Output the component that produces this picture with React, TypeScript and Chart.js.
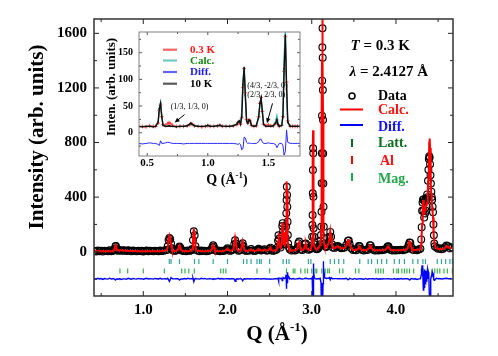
import React, { useEffect, useRef } from 'react';
import { Chart, registerables } from 'chart.js';

Chart.register(...registerables);

const SERIF = '"Liberation Serif", "Times New Roman", serif';
const fnt = (size: number, style = 'bold') => `${style} ${size}px ${SERIF}`;

// ---------------- main pattern (Q in 1/Å, intensity in arb. units) ----------------
const qObs = [
  0.42, 0.44, 0.46, 0.48, 0.50, 0.52, 0.54, 0.56, 0.58, 0.60, 0.62, 0.64,
  0.65, 0.66, 0.67, 0.675, 0.68, 0.69,
  0.70, 0.72, 0.74, 0.76, 0.78, 0.80, 0.82, 0.84, 0.86, 0.88, 0.90, 0.92, 0.94, 0.96, 0.98,
  1.00, 1.02, 1.04, 1.06, 1.08, 1.10, 1.12, 1.14, 1.16, 1.18, 1.20, 1.22, 1.24, 1.26,
  1.28, 1.29, 1.30, 1.31, 1.32, 1.33, 1.34, 1.35,
  1.37, 1.39, 1.41, 1.42, 1.43, 1.44, 1.45,
  1.47, 1.49, 1.51, 1.53, 1.55, 1.57,
  1.58, 1.59, 1.60, 1.61, 1.62, 1.63,
  1.65, 1.67, 1.69, 1.71, 1.73, 1.75, 1.77, 1.79,
  1.81, 1.82, 1.83, 1.84, 1.85,
  1.87, 1.89, 1.91, 1.93, 1.95, 1.97, 1.99, 2.00, 2.01,
  2.03, 2.05, 2.07, 2.08, 2.09, 2.10, 2.11, 2.13, 2.15,
  2.16, 2.17, 2.18, 2.19, 2.20, 2.22, 2.24, 2.26, 2.28, 2.30,
  2.32, 2.34, 2.36, 2.37, 2.38, 2.40, 2.42, 2.44, 2.46, 2.48,
  2.50, 2.51, 2.52, 2.54, 2.56, 2.58, 2.59, 2.60, 2.605, 2.61,
  2.62, 2.63, 2.64, 2.645, 2.65, 2.655, 2.66, 2.67, 2.68, 2.69,
  2.695, 2.698, 2.701, 2.704, 2.707, 2.710, 2.713, 2.716, 2.72, 2.73,
  2.74, 2.76, 2.78, 2.80, 2.82, 2.83, 2.84, 2.85, 2.86, 2.87,
  2.89, 2.91, 2.92, 2.93, 2.94, 2.96, 2.98, 2.99, 3.00, 3.005,
  3.008, 3.010, 3.012, 3.014, 3.016, 3.018, 3.020, 3.022, 3.025, 3.03,
  3.04, 3.05, 3.06, 3.07, 3.08, 3.09, 3.100, 3.106, 3.110, 3.113,
  3.116, 3.118, 3.120, 3.122, 3.124, 3.126, 3.128, 3.130, 3.132, 3.134,
  3.136, 3.138, 3.140, 3.143, 3.147, 3.152, 3.16, 3.17, 3.18, 3.19,
  3.20, 3.21, 3.22, 3.23, 3.24, 3.25, 3.27, 3.29, 3.31, 3.33,
  3.35, 3.37, 3.39, 3.41, 3.43, 3.44, 3.45, 3.47, 3.49, 3.51,
  3.53, 3.55, 3.56, 3.57, 3.58, 3.60, 3.62, 3.64, 3.66, 3.68,
  3.69, 3.70, 3.71, 3.73, 3.75, 3.77, 3.79, 3.81, 3.83, 3.85,
  3.87, 3.89, 3.90, 3.91, 3.92, 3.94, 3.96, 3.98, 4.00, 4.02,
  4.04, 4.06, 4.08, 4.10, 4.12, 4.14, 4.15, 4.16, 4.17, 4.18,
  4.19, 4.21, 4.23, 4.25, 4.27, 4.29, 4.30, 4.305, 4.31, 4.315,
  4.32, 4.325, 4.33, 4.335, 4.34, 4.345, 4.35, 4.355, 4.36, 4.365,
  4.37, 4.375, 4.38, 4.385, 4.39, 4.395, 4.40, 4.405, 4.41, 4.415,
  4.42, 4.425, 4.43, 4.435, 4.44, 4.445, 4.45, 4.455, 4.46, 4.48,
  4.50, 4.52, 4.54, 4.56, 4.58, 4.60, 4.62, 4.64, 4.66,
];

const obsCounts = [
  6, 2, 9, 4, 7, 1, 8, 5, 3, 10, 4, 7,
  10, 22, 40, 42, 25, 9,
  8, 12, 6, 10, 9, 5, 11, 7, 4, 9, 6, 3, 8, 5, 7,
  2, 6, 9, 4, 7, 5, 3, 8, 6, 4, 9, 5, 7, 10,
  12, 40, 85, 100, 92, 60, 25, 10,
  6, 9, 14, 28, 38, 30, 12,
  5, 8, 4, 9, 6, 10,
  20, 85, 150, 120, 40, 12,
  7, 4, 9, 5, 8, 3, 6, 10,
  15, 32, 47, 35, 12,
  6, 9, 4, 8, 5, 9, 18, 26, 16,
  6, 10, 18, 55, 84, 60, 20, 7, 10,
  22, 48, 62, 40, 14, 6, 9, 8, 20, 9,
  6, 9, 14, 22, 14, 8, 12, 18, 8, 9,
  22, 30, 15, 6, 10, 14, 30, 80, 120, 95,
  45, 30, 60, 114, 188, 209, 150, 70, 55, 100,
  183, 281, 379, 476, 416, 330, 220, 122, 60, 30,
  16, 8, 12, 9, 15, 30, 62, 75, 40, 16,
  12, 25, 55, 60, 30, 14, 18, 25, 45, 110,
  196, 269, 428, 599, 758, 721, 403, 171, 110, 55,
  30, 22, 18, 22, 28, 40, 55, 80, 122, 183,
  293, 501, 721, 997, 1253, 1498, 1637, 1422, 1185, 965,
  720, 500, 330, 183, 100, 60, 40, 35, 40, 55,
  70, 110, 145, 110, 55, 30, 28, 38, 42, 32,
  25, 28, 30, 50, 80, 82, 55, 25, 12, 16,
  10, 25, 42, 40, 22, 12, 8, 14, 12, 30,
  48, 46, 28, 14, 9, 13, 8, 12, 10, 14,
  16, 25, 38, 40, 26, 12, 9, 13, 8, 12,
  10, 14, 11, 15, 18, 30, 50, 68, 65, 35,
  18, 12, 15, 11, 16, 22, 90, 180, 300, 360,
  380, 300, 385, 250, 370, 280, 380, 300, 390, 330,
  420, 400, 520, 600, 680, 700, 690, 640, 560, 500,
  440, 400, 380, 330, 290, 200, 120, 60, 40, 30,
  22, 26, 18, 22, 32, 45, 40, 26, 32,
];

const calcCounts = [
  4, 4, 4, 4, 4, 4, 4, 4, 4, 4, 4, 5,
  8, 24, 48, 50, 26, 8,
  10, 10, 9, 9, 8, 7, 6, 5, 5, 5, 5, 4, 4, 4, 4,
  4, 4, 4, 4, 4, 4, 4, 4, 4, 4, 4, 5, 6, 8,
  12, 35, 90, 117, 95, 50, 20, 8,
  5, 6, 12, 28, 45, 32, 12,
  5, 4, 4, 4, 5, 8,
  18, 80, 170, 120, 36, 10,
  6, 5, 4, 4, 4, 4, 5, 7,
  14, 32, 50, 33, 12,
  5, 4, 4, 4, 5, 8, 16, 24, 14,
  6, 8, 16, 55, 100, 62, 18, 7, 9,
  20, 50, 75, 42, 12, 6, 6, 8, 18, 8,
  6, 7, 12, 20, 13, 8, 10, 16, 8, 8,
  22, 32, 14, 7, 8, 12, 28, 75, 135, 90,
  40, 28, 55, 110, 200, 215, 140, 65, 50, 90,
  150, 300, 450, 515, 440, 300, 170, 80, 40, 22,
  12, 8, 9, 10, 14, 28, 60, 70, 36, 14,
  12, 22, 50, 55, 26, 13, 16, 22, 40, 100,
  200, 300, 500, 720, 890, 760, 290, 120, 60, 40,
  28, 20, 18, 20, 26, 38, 50, 75, 150, 260,
  450, 700, 1000, 1400, 1800, 2100, 2200, 1900, 1400, 1000,
  640, 380, 200, 100, 60, 45, 35, 30, 36, 50,
  65, 100, 150, 100, 50, 28, 25, 35, 40, 30,
  24, 26, 28, 45, 85, 85, 50, 24, 14, 12,
  12, 24, 40, 38, 20, 12, 10, 10, 14, 28,
  46, 45, 26, 12, 10, 10, 10, 10, 10, 12,
  15, 24, 36, 38, 25, 12, 10, 10, 10, 10,
  10, 11, 12, 13, 16, 28, 50, 75, 70, 32,
  16, 12, 13, 14, 15, 20, 60, 120, 200, 280,
  330, 380, 330, 310, 300, 305, 320, 330, 340, 350,
  360, 400, 450, 550, 650, 800, 830, 760, 600, 500,
  420, 370, 330, 290, 250, 180, 120, 70, 45, 25,
  20, 22, 18, 20, 28, 40, 38, 24, 28,
];

const diffOffset = -200;

const lattPositions = [
  1.309, 1.33, 1.43, 1.608, 1.66, 1.83, 2.0, 2.19, 2.23, 2.28, 2.35, 2.38, 2.40, 2.50,
  2.66, 2.70, 2.73, 2.96, 2.99, 3.22, 3.27, 3.32, 3.38, 3.57, 3.67, 3.71, 3.78, 3.83,
  3.89, 3.98, 4.04, 4.10, 4.20, 4.26, 4.32, 4.35, 4.49, 4.54, 4.59, 4.64, 4.67,
];
const lattRowLevel = -72;

const magPositions = [
  0.723, 0.815, 1.0, 1.25, 1.456, 1.495, 1.54, 1.606, 1.92, 1.95, 1.98, 2.35, 2.50,
  2.70, 2.78, 2.80, 2.87, 2.92, 2.95, 3.0, 3.04, 3.06, 3.12, 3.16, 3.19, 3.21, 3.33,
  3.37, 3.52, 3.56, 3.76, 3.79, 3.82, 3.85, 3.97, 4.01, 4.03, 4.07, 4.10, 4.13, 4.16,
  4.21, 4.30, 4.33, 4.37, 4.43, 4.46, 4.49, 4.52, 4.57, 4.61, 4.67,
];
const magRowLevel = -141;

const xMajorTicks = [1, 2, 3, 4];
const xMinorTicks = [0.5, 1.5, 2.5, 3.5, 4.5];
const yMajorTicks = [0, 400, 800, 1200, 1600];
const yMinorTicks = [-200, 200, 600, 1000, 1400];

// ---------------- inset ----------------
const qInset = [
  0.43, 0.46, 0.49, 0.52, 0.55, 0.57, 0.59, 0.60, 0.61, 0.62,
  0.63, 0.65, 0.67, 0.68, 0.69, 0.71, 0.74, 0.77, 0.80, 0.83,
  0.85, 0.86, 0.87, 0.89, 0.92, 0.95, 0.98, 1.00, 1.02, 1.05,
  1.08, 1.10, 1.12, 1.15, 1.18, 1.21, 1.24, 1.25, 1.26, 1.27,
  1.28, 1.29, 1.30, 1.31, 1.32, 1.33, 1.34, 1.35, 1.36, 1.38,
  1.40, 1.42, 1.43, 1.44, 1.45, 1.46, 1.48, 1.50, 1.52, 1.54,
  1.56, 1.57, 1.58, 1.59, 1.61, 1.62, 1.63, 1.64, 1.65, 1.66,
  1.68, 1.70, 1.72, 1.74, 1.76,
];
const inset10K = [
  12, 11, 12, 12, 11, 12, 20, 45, 55, 30,
  14, 12, 12, 13, 12, 12, 11, 12, 12, 13,
  16, 18, 16, 13, 12, 12, 12, 14, 12, 12,
  13, 14, 12, 12, 12, 13, 16, 20, 22, 16,
  30, 90, 122, 70, 22, 18, 24, 22, 14, 12,
  13, 30, 55, 65, 40, 16, 12, 12, 12, 13,
  18, 24, 15, 12, 14, 30, 120, 183, 90, 20,
  12, 12, 12, 12, 12,
];
const inset03K = [
  11, 12, 11, 13, 12, 12, 18, 42, 52, 30,
  15, 14, 17, 19, 17, 14, 12, 12, 12, 13,
  15, 17, 16, 13, 12, 11, 12, 13, 12, 12,
  13, 14, 12, 12, 12, 13, 15, 19, 21, 16,
  28, 85, 120, 75, 25, 18, 24, 22, 14, 12,
  13, 30, 55, 66, 40, 16, 13, 15, 13, 13,
  18, 24, 15, 12, 14, 30, 115, 180, 95, 22,
  12, 12, 12, 12, 12,
];
const insetCalc = [
  12, 12, 12, 12, 12, 12, 20, 46, 57, 32,
  14, 12, 12, 13, 12, 12, 12, 12, 12, 13,
  16, 18, 16, 13, 12, 12, 12, 14, 12, 12,
  13, 14, 12, 12, 12, 13, 17, 21, 20, 18,
  40, 100, 122, 60, 22, 18, 23, 22, 14, 12,
  13, 28, 52, 64, 40, 16, 12, 12, 12, 13,
  22, 32, 18, 12, 14, 35, 140, 195, 70, 18,
  12, 12, 12, 12, 12,
];
const insetDiff = [
  -20, -21, -20, -19, -20, -20, -22, -24, -15, -20,
  -20, -19, -18, -18, -19, -20, -20, -20, -21, -20,
  -20, -20, -20, -20, -20, -20, -20, -20, -20, -20,
  -20, -20, -20, -20, -20, -20, -21, -22, -20, -22,
  -32, -30, -8, -10, -18, -20, -19, -20, -20, -20,
  -20, -17, -12, -12, -17, -20, -20, -19, -20, -20,
  -22, -28, -24, -20, -20, -24, -42, -35, 5, -18,
  -20, -20, -20, -20, -20,
];
const insetXMajor = [0.5, 1.0, 1.5];
const insetXMinor = [0.75, 1.25];
const insetYMajor = [0, 50, 100, 150];
const insetYMinor = [-25, 25, 75, 125, 175];

const INSET_LEFT = 96;
const INSET_TOP = 20;

function pts(xs: number[], ys: number[]) {
  return xs.map((x, i) => ({ x, y: ys[i] }));
}

function drawQTitle(ctx: CanvasRenderingContext2D, cx: number, base: number, size: number, sup: number) {
  const a = 'Q (Å';
  const s = '-1';
  const c = ')';
  ctx.font = fnt(size);
  const wa = ctx.measureText(a).width;
  const wc = ctx.measureText(c).width;
  ctx.font = fnt(sup);
  const ws = ctx.measureText(s).width;
  let x = cx - (wa + ws + wc) / 2;
  ctx.textAlign = 'left';
  ctx.textBaseline = 'alphabetic';
  ctx.fillStyle = '#000';
  ctx.font = fnt(size);
  ctx.fillText(a, x, base);
  x += wa;
  ctx.font = fnt(sup);
  ctx.fillText(s, x, base - size * 0.42);
  x += ws;
  ctx.font = fnt(size);
  ctx.fillText(c, x, base);
}

function inwardTicks(chart: any, xMaj: number[], xMin: number[], yMaj: number[], yMin: number[], lMaj: number, lMin: number, color: string) {
  const { ctx, chartArea: a, scales } = chart;
  const xs = scales.x;
  const ys = scales.y;
  ctx.save();
  ctx.strokeStyle = color;
  ctx.lineWidth = 1;
  const vt = (v: number, len: number) => {
    const p = xs.getPixelForValue(v);
    ctx.beginPath();
    ctx.moveTo(p, a.bottom);
    ctx.lineTo(p, a.bottom - len);
    ctx.moveTo(p, a.top);
    ctx.lineTo(p, a.top + len);
    ctx.stroke();
  };
  const ht = (v: number, len: number) => {
    const p = ys.getPixelForValue(v);
    ctx.beginPath();
    ctx.moveTo(a.left, p);
    ctx.lineTo(a.left + len, p);
    ctx.moveTo(a.right, p);
    ctx.lineTo(a.right - len, p);
    ctx.stroke();
  };
  xMaj.forEach((v) => vt(v, lMaj));
  xMin.forEach((v) => vt(v, lMin));
  yMaj.forEach((v) => ht(v, lMaj));
  yMin.forEach((v) => ht(v, lMin));
  ctx.restore();
}

const mainDecor = {
  id: 'mainDecor',
  afterDraw(chart: any) {
    const { ctx, chartArea: a } = chart;
    inwardTicks(chart, xMajorTicks, xMinorTicks, yMajorTicks, yMinorTicks, 5, 3, '#222');
    ctx.save();
    ctx.strokeStyle = '#333';
    ctx.lineWidth = 1.5;
    ctx.strokeRect(a.left, a.top, a.right - a.left, a.bottom - a.top);

    // y title
    ctx.save();
    ctx.translate(43, 137);
    ctx.rotate(-Math.PI / 2);
    ctx.font = fnt(21);
    ctx.fillStyle = '#000';
    ctx.textAlign = 'center';
    ctx.textBaseline = 'alphabetic';
    ctx.fillText('Intensity (arb. units)', 0, 0);
    ctx.restore();

    // x title
    drawQTitle(ctx, 277, 340, 21, 13);

    // annotation texts
    ctx.fillStyle = '#000';
    ctx.textAlign = 'left';
    ctx.textBaseline = 'alphabetic';
    ctx.font = fnt(15, 'italic bold');
    ctx.fillText('T', 350.5, 50);
    let w = ctx.measureText('T').width;
    ctx.font = fnt(15);
    ctx.fillText(' = 0.3 K', 350.5 + w, 50);
    ctx.font = fnt(15, 'italic bold');
    ctx.fillText('λ', 349.5, 75.5);
    w = ctx.measureText('λ').width;
    ctx.font = fnt(15);
    ctx.fillText(' = 2.4127 Å', 349.5 + w, 75.5);

    // legend
    ctx.textBaseline = 'middle';
    ctx.font = fnt(14);
    ctx.strokeStyle = '#000';
    ctx.lineWidth = 1.5;
    ctx.beginPath();
    ctx.arc(352, 96, 3, 0, Math.PI * 2);
    ctx.stroke();
    ctx.fillStyle = '#000';
    ctx.fillText('Data', 378, 96.5);

    ctx.lineWidth = 2;
    ctx.strokeStyle = '#ff0000';
    ctx.beginPath();
    ctx.moveTo(340, 109.5);
    ctx.lineTo(363, 109.5);
    ctx.stroke();
    ctx.fillStyle = '#ff1010';
    ctx.fillText('Calc.', 378, 110.5);

    ctx.strokeStyle = '#0000ff';
    ctx.beginPath();
    ctx.moveTo(340, 125);
    ctx.lineTo(363, 125);
    ctx.stroke();
    ctx.fillStyle = '#1010ff';
    ctx.fillText('Diff.', 378, 127);

    const vtick = (y: number, color: string) => {
      ctx.strokeStyle = color;
      ctx.lineWidth = 2;
      ctx.beginPath();
      ctx.moveTo(352, y - 4);
      ctx.lineTo(352, y + 4);
      ctx.stroke();
    };
    vtick(143, '#0b6e1e');
    ctx.fillStyle = '#0b6e1e';
    ctx.fillText('Latt.', 378, 143.5);
    vtick(160, '#ff0000');
    ctx.fillStyle = '#ff1010';
    ctx.fillText('Al', 380, 161);
    vtick(177, '#22a64a');
    ctx.fillStyle = '#22a64a';
    ctx.fillText('Mag.', 378, 179.5);
    ctx.restore();
  },
};

const insetDecor = {
  id: 'insetDecor',
  beforeDatasetsDraw(chart: any) {
    const { ctx, chartArea: a } = chart;
    ctx.save();
    ctx.fillStyle = '#fff';
    ctx.fillRect(a.left, a.top, a.right - a.left, a.bottom - a.top);
    ctx.restore();
  },
  afterDraw(chart: any) {
    const { ctx, chartArea: a, scales } = chart;
    const xs = scales.x;
    const ys = scales.y;
    inwardTicks(chart, insetXMajor, insetXMinor, insetYMajor, insetYMinor, 3, 2, '#555');
    ctx.save();
    ctx.strokeStyle = '#808080';
    ctx.lineWidth = 1;
    ctx.strokeRect(a.left, a.top, a.right - a.left, a.bottom - a.top);

    ctx.translate(-INSET_LEFT, -INSET_TOP);
    // y title
    ctx.save();
    ctx.translate(115, 87);
    ctx.rotate(-Math.PI / 2);
    ctx.font = fnt(13);
    ctx.fillStyle = '#000';
    ctx.textAlign = 'center';
    ctx.textBaseline = 'alphabetic';
    ctx.fillText('Inten. (arb. units)', 0, 0);
    ctx.restore();
    drawQTitle(ctx, 227, 184, 14, 9);

    // legend
    const items = [
      { y: 49.7, line: '#ff6464', text: '#ff1a1a', label: '0.3 K' },
      { y: 60.5, line: '#74c9c0', text: '#138a13', label: 'Calc.' },
      { y: 72, line: '#6464ff', text: '#1a1aff', label: 'Diff.' },
      { y: 83.7, line: '#5a5a5a', text: '#000', label: '10 K' },
    ];
    ctx.font = fnt(11);
    ctx.textAlign = 'left';
    ctx.textBaseline = 'middle';
    items.forEach((it) => {
      ctx.strokeStyle = it.line;
      ctx.lineWidth = 2.2;
      ctx.beginPath();
      ctx.moveTo(163, it.y);
      ctx.lineTo(177, it.y);
      ctx.stroke();
      ctx.fillStyle = it.text;
      ctx.fillText(it.label, 190, it.y + 0.5);
    });
    ctx.restore();

    // annotations in data coordinates
    ctx.save();
    ctx.fillStyle = '#000';
    ctx.strokeStyle = '#000';
    ctx.font = fnt(8, 'normal');
    ctx.textBaseline = 'middle';
    ctx.textAlign = 'center';
    ctx.fillText('(1/3, 1/3, 0)', xs.getPixelForValue(0.849), ys.getPixelForValue(47.6));
    ctx.textAlign = 'left';
    ctx.fillText('(4/3, -2/3, 0)', xs.getPixelForValue(1.326), ys.getPixelForValue(87));
    ctx.fillText('(2/3, 2/3, 0)', xs.getPixelForValue(1.326), ys.getPixelForValue(71));
    const arrow = (q0: number, i0: number, q1: number, i1: number) => {
      const x0 = xs.getPixelForValue(q0);
      const y0 = ys.getPixelForValue(i0);
      const x1 = xs.getPixelForValue(q1);
      const y1 = ys.getPixelForValue(i1);
      const ang = Math.atan2(y1 - y0, x1 - x0);
      ctx.lineWidth = 1;
      ctx.beginPath();
      ctx.moveTo(x0, y0);
      ctx.lineTo(x1 - Math.cos(ang) * 3, y1 - Math.sin(ang) * 3);
      ctx.stroke();
      ctx.beginPath();
      ctx.moveTo(x1, y1);
      ctx.lineTo(x1 - Math.cos(ang) * 5 + Math.sin(ang) * 2.2, y1 - Math.sin(ang) * 5 - Math.cos(ang) * 2.2);
      ctx.lineTo(x1 - Math.cos(ang) * 5 - Math.sin(ang) * 2.2, y1 - Math.sin(ang) * 5 + Math.cos(ang) * 2.2);
      ctx.closePath();
      ctx.fill();
    };
    arrow(0.808, 34, 0.726, 19);
    arrow(1.534, 55, 1.488, 18);
    ctx.restore();
  },
};

function mainConfig(): any {
  const diffCounts = obsCounts.map((v, i) => v - calcCounts[i] + diffOffset);
  return {
    type: 'scatter',
    data: {
      datasets: [
        {
          label: 'Data',
          data: pts(qObs, obsCounts),
          showLine: false,
          pointStyle: 'circle',
          pointRadius: 3.4,
          pointBorderWidth: 1.15,
          pointBorderColor: '#000',
          pointBackgroundColor: 'rgba(0,0,0,0)',
          order: 6,
        },
        {
          label: 'Calc.',
          data: pts(qObs, calcCounts),
          showLine: true,
          borderColor: '#ff0000',
          borderWidth: 2,
          pointRadius: 0,
          clip: 0,
          order: 1,
        },
        {
          label: 'Diff.',
          data: pts(qObs, diffCounts),
          showLine: true,
          borderColor: '#0000ff',
          borderWidth: 1.4,
          pointRadius: 0,
          clip: 0,
          order: 2,
        },
        {
          label: 'Latt.',
          data: lattPositions.map((x) => ({ x, y: lattRowLevel })),
          showLine: false,
          pointStyle: 'line',
          pointRotation: 90,
          pointRadius: 2.5,
          pointBorderWidth: 1.2,
          pointBorderColor: '#35a39c',
          order: 3,
        },
        {
          label: 'Mag.',
          data: magPositions.map((x) => ({ x, y: magRowLevel })),
          showLine: false,
          pointStyle: 'line',
          pointRotation: 90,
          pointRadius: 2.5,
          pointBorderWidth: 1.2,
          pointBorderColor: '#3cb050',
          order: 4,
        },
      ],
    },
    options: {
      responsive: false,
      animation: false,
      devicePixelRatio: 1,
      events: [],
      layout: { padding: { top: 19, right: 45, left: 0, bottom: 0 } },
      elements: { line: { tension: 0 } },
      plugins: { legend: { display: false }, tooltip: { enabled: false } },
      scales: {
        x: {
          type: 'linear',
          min: 0.415,
          max: 4.677,
          afterBuildTicks: (s: any) => {
            s.ticks = xMajorTicks.map((v) => ({ value: v }));
          },
          afterFit: (s: any) => {
            s.height = 60;
          },
          grid: { display: false, drawTicks: false },
          border: { display: false },
          ticks: {
            autoSkip: false,
            maxRotation: 0,
            padding: 5,
            color: '#000',
            font: { family: SERIF, size: 15, weight: 'bold', lineHeight: 1.2 },
            callback: (v: any) => Number(v).toFixed(1),
          },
        },
        y: {
          type: 'linear',
          min: -324.5,
          max: 1705,
          afterBuildTicks: (s: any) => {
            s.ticks = yMajorTicks.map((v) => ({ value: v }));
          },
          afterFit: (s: any) => {
            s.width = 94;
          },
          grid: { display: false, drawTicks: false },
          border: { display: false },
          ticks: {
            padding: 7,
            color: '#000',
            font: { family: SERIF, size: 15, weight: 'bold', lineHeight: 1.2 },
            callback: (v: any) => String(v),
          },
        },
      },
    },
    plugins: [mainDecor],
  };
}

function insetConfig(): any {
  return {
    type: 'scatter',
    data: {
      datasets: [
        {
          label: '10 K',
          data: pts(qInset, inset10K),
          showLine: true,
          borderColor: '#111',
          borderWidth: 1.4,
          pointStyle: 'circle',
          pointRadius: 0.8,
          pointBorderWidth: 0,
          pointBackgroundColor: '#111',
          order: 1,
        },
        {
          label: 'Calc.',
          data: pts(qInset, insetCalc),
          showLine: true,
          borderColor: '#3fb3a6',
          borderWidth: 1.3,
          pointRadius: 0,
          clip: 0,
          order: 2,
        },
        {
          label: '0.3 K',
          data: pts(qInset, inset03K),
          showLine: true,
          borderColor: '#ff5050',
          borderWidth: 1,
          pointStyle: 'cross',
          pointRadius: 2,
          pointBorderWidth: 0.8,
          pointBorderColor: '#ff3030',
          order: 3,
        },
        {
          label: 'Diff.',
          data: pts(qInset, insetDiff),
          showLine: true,
          borderColor: '#2b2bff',
          borderWidth: 1,
          pointRadius: 0,
          clip: 0,
          order: 4,
        },
      ],
    },
    options: {
      responsive: false,
      animation: false,
      devicePixelRatio: 1,
      events: [],
      layout: { padding: { top: 4, right: 10, left: 0, bottom: 0 } },
      elements: { line: { tension: 0 } },
      plugins: { legend: { display: false }, tooltip: { enabled: false } },
      scales: {
        x: {
          type: 'linear',
          min: 0.432,
          max: 1.761,
          afterBuildTicks: (s: any) => {
            s.ticks = insetXMajor.map((v) => ({ value: v }));
          },
          afterFit: (s: any) => {
            s.height = 32;
          },
          grid: { display: false, drawTicks: false },
          border: { display: false },
          ticks: {
            autoSkip: false,
            maxRotation: 0,
            padding: 1,
            color: '#000',
            font: { family: SERIF, size: 11, weight: 'bold', lineHeight: 1.2 },
            callback: (v: any) => Number(v).toFixed(1),
          },
        },
        y: {
          type: 'linear',
          min: -43.6,
          max: 188.8,
          afterBuildTicks: (s: any) => {
            s.ticks = insetYMajor.map((v) => ({ value: v }));
          },
          afterFit: (s: any) => {
            s.width = 43;
          },
          grid: { display: false, drawTicks: false },
          border: { display: false },
          ticks: {
            padding: 6,
            color: '#000',
            font: { family: SERIF, size: 10, weight: 'bold', lineHeight: 1.2 },
            callback: (v: any) => String(v),
          },
        },
      },
    },
    plugins: [insetDecor],
  };
}

export default function App() {
  const mainRef = useRef<HTMLCanvasElement>(null);
  const insetRef = useRef<HTMLCanvasElement>(null);
  useEffect(() => {
    const main = new Chart(mainRef.current as HTMLCanvasElement, mainConfig());
    const inset = new Chart(insetRef.current as HTMLCanvasElement, insetConfig());
    return () => {
      main.destroy();
      inset.destroy();
    };
  }, []);
  return (
    <div style={{ position: 'absolute', left: 0, top: 0, width: 498, height: 356, background: '#fff' }}>
      <canvas
        ref={mainRef}
        width={498}
        height={356}
        style={{ position: 'absolute', left: 0, top: 0, width: 498, height: 356 }}
      />
      <canvas
        ref={insetRef}
        width={214}
        height={168}
        style={{ position: 'absolute', left: INSET_LEFT, top: INSET_TOP, width: 214, height: 168 }}
      />
    </div>
  );
}
